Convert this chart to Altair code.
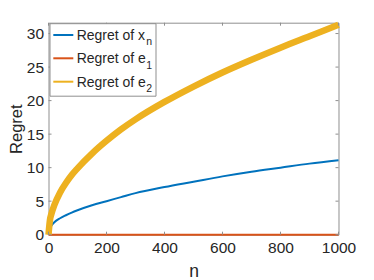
import altair as alt
import pandas as pd

# ---- data ----
n_values = [0, 5, 10, 20, 40, 60, 80, 100, 150, 200, 250, 300, 400, 500, 600, 700, 800, 900, 1000]
regret_xn = [0, 1.0, 1.35, 1.85, 2.45, 2.9, 3.3, 3.65, 4.4, 5.0, 5.6, 6.2, 7.1, 7.9, 8.7, 9.4, 10.0, 10.6, 11.1]
regret_e1 = [0] * len(n_values)
regret_e2 = [0, 2.2, 3.1, 4.4, 6.3, 7.7, 8.9, 9.9, 12.1, 14.0, 15.7, 17.2, 19.8, 22.1, 24.2, 26.1, 27.9, 29.6, 31.3]

x_ticks = [0, 200, 400, 600, 800, 1000]
y_ticks = [0, 5, 10, 15, 20, 25, 30]

series_names = ["Regret of x_n", "Regret of e_1", "Regret of e_2"]
legend_main = ["Regret of x", "Regret of e", "Regret of e"]
legend_sub = ["n", "1", "2"]
colors = ["#0072BD", "#D95319", "#EDB120"]

W, H = 290, 212
FONT = "Liberation Sans"
AXIS_GREY = "#8f8f8f"
TEXT = "#262626"

frames = []
for name, vals in zip(series_names, [regret_xn, regret_e1, regret_e2]):
    frames.append(pd.DataFrame({"n": n_values, "regret": vals, "series": name}))
df = pd.concat(frames, ignore_index=True)

xscale = alt.Scale(domain=[0, 1000], nice=False, zero=False)
yscale = alt.Scale(domain=[0, 31.62], nice=False, zero=False)

x_axis = alt.Axis(values=x_ticks, format="d", title="n", ticks=False, domain=False, grid=False,
                  labelFontSize=15.5, labelFont=FONT, labelColor=TEXT, labelPadding=6,
                  labelFlush=False, labelOverlap=False,
                  titleFontSize=17.5, titleFont=FONT, titleColor=TEXT, titleFontWeight="normal",
                  titlePadding=6)
y_axis = alt.Axis(values=y_ticks, format="d", title="Regret", ticks=False, domain=False, grid=False,
                  labelFontSize=15.5, labelFont=FONT, labelColor=TEXT, labelPadding=5,
                  labelFlush=False, labelOverlap=False,
                  titleFontSize=16.5, titleFont=FONT, titleColor=TEXT, titleFontWeight="normal",
                  titlePadding=2)

color_scale = alt.Scale(domain=series_names, range=colors)

base = alt.Chart(df).encode(
    x=alt.X("n:Q", scale=xscale, axis=x_axis),
    y=alt.Y("regret:Q", scale=yscale, axis=y_axis),
    color=alt.Color("series:N", scale=color_scale, legend=None),
)

line_xn = base.transform_filter(alt.datum.series == series_names[0]).mark_line(strokeWidth=2, clip=False, interpolate="monotone")
line_e1 = base.transform_filter(alt.datum.series == series_names[1]).mark_line(strokeWidth=2, clip=False)
line_e2 = base.transform_filter(alt.datum.series == series_names[2]).mark_line(strokeWidth=6.5, clip=False, interpolate="monotone")

# inward tick marks on all four sides
xt = pd.DataFrame({"n": x_ticks})
yt = pd.DataFrame({"regret": y_ticks})
tick_style = dict(color=AXIS_GREY, strokeWidth=1)
ticks_bottom = alt.Chart(xt).mark_rule(**tick_style).encode(
    x=alt.X("n:Q", scale=xscale, axis=x_axis), y=alt.value(H), y2=alt.value(H - 3))
ticks_top = alt.Chart(xt).mark_rule(**tick_style).encode(
    x=alt.X("n:Q", scale=xscale, axis=x_axis), y=alt.value(0), y2=alt.value(3))
ticks_left = alt.Chart(yt).mark_rule(**tick_style).encode(
    y=alt.Y("regret:Q", scale=yscale, axis=y_axis), x=alt.value(0), x2=alt.value(3))
ticks_right = alt.Chart(yt).mark_rule(**tick_style).encode(
    y=alt.Y("regret:Q", scale=yscale, axis=y_axis), x=alt.value(W), x2=alt.value(W - 3))

# custom legend (MATLAB style with subscripts)
one = pd.DataFrame({"a": [0]})
legend_layers = [
    alt.Chart(one).mark_rect(fill="white", stroke=AXIS_GREY, strokeWidth=1).encode(
        x=alt.value(1.5), x2=alt.value(107.5), y=alt.value(1), y2=alt.value(73.5))
]
entry_y = [12.3, 35.6, 59.0]
for i in range(3):
    yy = entry_y[i]
    legend_layers.append(
        alt.Chart(one).mark_rule(color=colors[i], strokeWidth=2).encode(
            x=alt.value(4.8), x2=alt.value(24.8), y=alt.value(yy)))
    legend_layers.append(
        alt.Chart(one).mark_text(align="left", baseline="alphabetic", fontSize=14,
                                 font=FONT, color=TEXT).encode(
            x=alt.value(28.2), y=alt.value(yy + 5.2), text=alt.value(legend_main[i])))
    legend_layers.append(
        alt.Chart(one).mark_text(align="left", baseline="alphabetic", fontSize=10.5,
                                 font=FONT, color=TEXT).encode(
            x=alt.value(97.8), y=alt.value(yy + 10.3), text=alt.value(legend_sub[i])))

chart = alt.layer(
    line_xn, line_e1, line_e2,
    ticks_bottom, ticks_top, ticks_left, ticks_right,
    *legend_layers,
).properties(
    width=W, height=H,
    autosize=alt.AutoSizeParams(type="none"),
    padding={"left": 40.5, "top": 14.7, "right": 20, "bottom": 50},
    background="white",
).configure_view(
    stroke=AXIS_GREY, strokeWidth=1
)

chart.save("out.html", embed_options={"renderer": "svg", "actions": False})
